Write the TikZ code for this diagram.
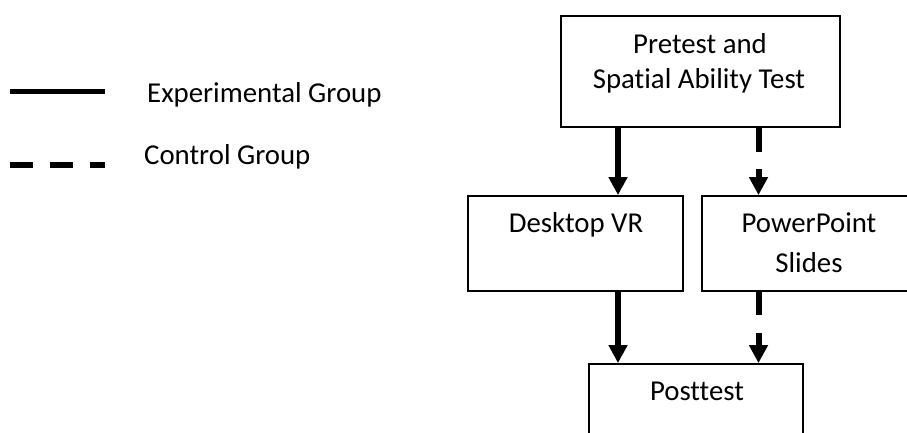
\documentclass[tikz,border=0pt]{standalone}
\usepackage{fontspec}
\setmainfont{Carlito}[Ligatures={NoCommon}]
\usetikzlibrary{arrows.meta}
\begin{document}
\begin{tikzpicture}[x=1pt,y=-1pt,
  box/.style={draw=black, line width=1.8pt, inner sep=0pt},
  lbl/.style={font=\fontsize{28.8}{34}\selectfont, anchor=base, inner sep=0pt},
  leglbl/.style={lbl, anchor=base west},
  flow/.style={line width=6pt, -{Triangle[width=18pt,length=18pt]}},
  ctrl/.style={flow, dash pattern=on 24pt off 17pt},
  legsolid/.style={line width=5.5pt},
  legdash/.style={line width=5.5pt, dash pattern=on 23pt off 17pt}]
\useasboundingbox (0,0) rectangle (907,432);
\clip (0,0) rectangle (907,432);
% legend
\coordinate (la1) at (10,91.5);
\coordinate (lb1) at (105,91.5);
\coordinate (la2) at (10,165);
\coordinate (lb2) at (105,165);
\draw[legsolid] (la1) -- (lb1);
\draw[legdash] (la2) -- (lb2);
\node[leglbl] (lexp) at (147,102) {Experimental Group};
\node[leglbl] (lctl) at (144,164) {Control Group};
% boxes
\node[box, minimum width=279pt, minimum height=111pt] (top) at (700.5,71.5) {};
\node[box, minimum width=215pt, minimum height=95pt] (dvr) at (575.5,243.5) {};
\node[box, minimum width=214pt, minimum height=95pt] (ppt) at (809,243.5) {};
\node[box, minimum width=214pt, minimum height=76pt] (post) at (696,402) {};
% texts
\node[lbl] (t1) at (700,53) {Pretest and};
\node[lbl] (t2) at (699,88) {Spatial Ability Test};
\node[lbl] (t3) at (576,232) {Desktop VR};
\node[lbl] (t4) at (809,232) {PowerPoint};
\node[lbl] (t5) at (809,272) {Slides};
\node[lbl] (t6) at (697,400) {Posttest};
% connectors
\coordinate (xa) at (618,0);
\coordinate (xb) at (758.5,0);
\draw[flow] (top.south -| xa) -- (dvr.north -| xa);
\draw[ctrl] (top.south -| xb) -- (ppt.north -| xb);
\draw[flow] (dvr.south -| xa) -- (post.north -| xa);
\draw[ctrl, dash pattern=on 23pt off 18pt] (ppt.south -| xb) -- (post.north -| xb);
\end{tikzpicture}
\end{document}
